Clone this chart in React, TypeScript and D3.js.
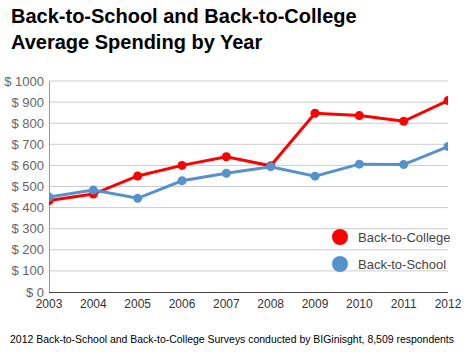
import React from 'react';
import * as d3 from 'd3';

const years = [2003, 2004, 2005, 2006, 2007, 2008, 2009, 2010, 2011, 2012];
const collegeSpending = [433, 464, 550, 600, 641, 598, 847, 836, 809, 907];
const schoolSpending = [450, 483, 444, 527, 563, 594, 549, 606, 604, 689];
const yTicks = [0, 100, 200, 300, 400, 500, 600, 700, 800, 900, 1000];

const series = [
  { name: 'Back-to-College', values: collegeSpending, color: '#ff0000' },
  { name: 'Back-to-School', values: schoolSpending, color: '#5592cd' },
];

const W = 467;
const H = 352;
const margin = { top: 81, right: 19, bottom: 60, left: 49 };

const App = () => {
  const innerW = W - margin.left - margin.right;
  const innerH = H - margin.top - margin.bottom;

  const x = d3.scaleLinear().domain([2003, 2012]).range([0, innerW]);
  const y = d3.scaleLinear().domain([0, 1000]).range([innerH, 0]);

  const line = d3
    .line<number>()
    .x((_, i) => x(years[i]))
    .y(d => y(d));

  return (
    <svg
      width={W}
      height={H}
      style={{ position: 'absolute', left: 0, top: 0, background: '#fff' }}
      fontFamily="'Liberation Sans', Arial, sans-serif"
    >
      <defs>
        <clipPath id="plot">
          <rect x={0} y={-6} width={innerW} height={innerH + 6} />
        </clipPath>
      </defs>

      <text x={11} y={23} fontSize={20} fontWeight="bold" fill="#000">
        Back-to-School and Back-to-College
      </text>
      <text x={11} y={49} fontSize={20} fontWeight="bold" fill="#000">
        Average Spending by Year
      </text>

      <g transform={`translate(${margin.left},${margin.top})`}>
        {yTicks.map(t => (
          <g key={t}>
            {t > 0 && (
              <line x1={0} x2={innerW} y1={y(t)} y2={y(t)} stroke="#cccccc" strokeWidth={1} />
            )}
            <text
              x={-5}
              y={y(t)}
              dy="0.35em"
              textAnchor="end"
              fontSize={13}
              fill="#666"
            >
              {`$ ${t}`}
            </text>
          </g>
        ))}
        <line x1={0.5} x2={0.5} y1={0} y2={innerH} stroke="#999" />
        <line x1={0} x2={innerW} y1={innerH + 0.5} y2={innerH + 0.5} stroke="#444" />

        {years.map(yr => (
          <text
            key={yr}
            x={x(yr)}
            y={innerH + 16}
            textAnchor="middle"
            fontSize={12}
            fill="#333"
          >
            {yr}
          </text>
        ))}

        <g clipPath="url(#plot)">
          {series.map(s => (
            <g key={s.name}>
              <path d={line(s.values) || ''} fill="none" stroke={s.color} strokeWidth={3} />
              {s.values.map((v, i) => (
                <circle key={i} cx={x(years[i])} cy={y(v)} r={4.5} fill={s.color} />
              ))}
            </g>
          ))}
        </g>

        {series.map((s, i) => (
          <g key={s.name} transform={`translate(${291},${156 + i * 27})`}>
            <circle cx={0} cy={0} r={8} fill={s.color} />
            <text x={18} y={0} dy="0.35em" fontSize={13} fill="#444">
              {s.name}
            </text>
          </g>
        ))}
      </g>

      <text x={10} y={343} fontSize={10.5} fill="#000" textLength={444} lengthAdjust="spacingAndGlyphs">
        2012 Back-to-School and Back-to-College Surveys conducted by BIGinisght, 8,509 respondents
      </text>
    </svg>
  );
};

export default App;
